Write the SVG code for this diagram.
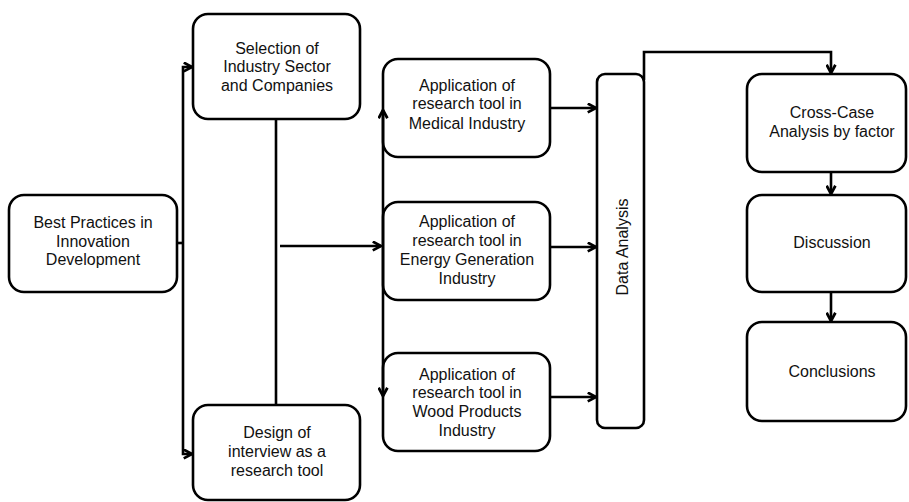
<svg xmlns="http://www.w3.org/2000/svg" width="909" height="502" viewBox="0 0 909 502">
<defs>
<style>
.box{fill:#fff;stroke:#000;stroke-width:2.6}
.t{font-family:"Liberation Sans",Arial,sans-serif;font-size:16px;fill:#111;text-anchor:middle}
.c{fill:none;stroke:#000;stroke-width:2.6}
.a{marker-end:url(#ah)}
</style>
<marker id="ah" viewBox="0 0 10 10" refX="9" refY="5" markerWidth="11" markerHeight="11" markerUnits="userSpaceOnUse" orient="auto">
<path d="M1.5,1 L9,5 L1.5,9" fill="none" stroke="#000" stroke-width="2.5" stroke-linejoin="miter"/>
</marker>
</defs>
<rect width="909" height="502" fill="#fff"/>
<g id="best-practices">
<rect class="box" x="9" y="195" width="168" height="97" rx="15"/>
<text class="t" x="93" y="228">Best Practices in</text>
<text class="t" x="93" y="247">Innovation</text>
<text class="t" x="93" y="265">Development</text>
</g>
<g id="selection">
<rect class="box" x="193" y="14" width="167" height="105" rx="15"/>
<text class="t" x="277" y="54">Selection of</text>
<text class="t" x="277" y="72">Industry Sector</text>
<text class="t" x="277" y="91">and Companies</text>
</g>
<g id="design">
<rect class="box" x="193" y="405" width="167" height="95" rx="15"/>
<text class="t" x="277" y="438">Design of</text>
<text class="t" x="277" y="457">interview as a</text>
<text class="t" x="277" y="476">research tool</text>
</g>
<g id="medical">
<rect class="box" x="383" y="59" width="167" height="98" rx="15"/>
<text class="t" x="467" y="91">Application of</text>
<text class="t" x="467" y="109">research tool in</text>
<text class="t" x="467" y="129">Medical Industry</text>
</g>
<g id="energy">
<rect class="box" x="383" y="202" width="167" height="98" rx="15"/>
<text class="t" x="467" y="227">Application of</text>
<text class="t" x="467" y="246">research tool in</text>
<text class="t" x="467" y="265">Energy Generation</text>
<text class="t" x="467" y="284">Industry</text>
</g>
<g id="wood">
<rect class="box" x="383" y="353" width="167" height="98" rx="15"/>
<text class="t" x="467" y="380">Application of</text>
<text class="t" x="467" y="398">research tool in</text>
<text class="t" x="467" y="417">Wood Products</text>
<text class="t" x="467" y="436">Industry</text>
</g>
<g id="data-analysis">
<rect class="box" x="597" y="74" width="47" height="354" rx="8"/>
<text class="t" x="623" y="252" transform="rotate(-90 623 247)">Data Analysis</text>
</g>
<g id="cross-case">
<rect class="box" x="747" y="74" width="159" height="98" rx="15"/>
<text class="t" x="832" y="118">Cross-Case</text>
<text class="t" x="832" y="137">Analysis by factor</text>
</g>
<g id="discussion">
<rect class="box" x="747" y="195" width="159" height="97" rx="15"/>
<text class="t" x="832" y="248">Discussion</text>
</g>
<g id="conclusions">
<rect class="box" x="747" y="322" width="159" height="99" rx="15"/>
<text class="t" x="832" y="377">Conclusions</text>
</g>
<g id="connectors">
<path class="c" d="M177,243 L183,243"/>
<path class="c a" d="M183,243 L183,67 L192,67"/>
<path class="c a" d="M183,243 L183,454 L192,454"/>
<path class="c" d="M276,119 L276,405"/>
<path class="c a" d="M280,246 L381,246"/>
<path class="c a" d="M383,246 L383,110"/>
<path class="c a" d="M383,246 L383,396"/>
<path class="c a" d="M550,108 L596,108"/>
<path class="c a" d="M550,247 L596,247"/>
<path class="c a" d="M550,397 L596,397"/>
<path class="c a" d="M644,80 L644,52 L831,52 L831,73"/>
<path class="c a" d="M831,172 L831,194"/>
<path class="c a" d="M831,292 L831,321"/>
</g>
</svg>
